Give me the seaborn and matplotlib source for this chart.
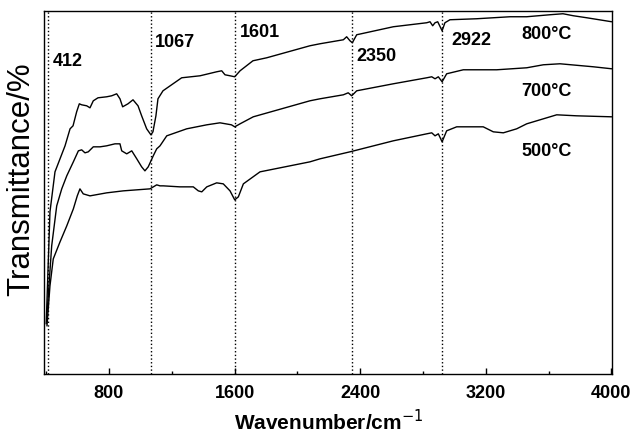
import numpy as np
import pandas as pd
import matplotlib.pyplot as plt
import seaborn as sns
from matplotlib.ticker import MultipleLocator

# FTIR spectra (transmittance in arbitrary units)
wn_800 = [400, 424, 456, 488, 520, 552, 571, 594, 611, 626, 658, 679, 700, 730, 785, 817,
          849, 870, 887, 921, 953, 985, 1008, 1040, 1067, 1080, 1099, 1112, 1144, 1208,
          1263, 1380, 1486, 1518, 1539, 1571, 1601, 1635, 1717, 1805, 2080, 2144, 2293,
          2314, 2335, 2350, 2378, 2611, 2824, 2845, 2862, 2877, 2894, 2922, 2940, 2972,
          3142, 3355, 3461, 3609, 3692, 3758, 3843, 4002]
tr_800 = [50, 162, 202, 215, 228, 245, 248, 262, 270, 269, 268, 266, 273, 276, 277, 278,
          280, 275, 267, 270, 274, 268, 258, 245, 239, 242, 258, 275, 283, 290,
          296, 298, 302, 303, 299, 298, 297, 303, 313, 316, 328, 330, 334,
          337, 333, 331, 339, 347, 351, 352, 348, 351, 352, 343, 351, 354,
          355, 357, 357, 359, 360, 358, 356, 352]

wn_700 = [403, 435, 467, 499, 531, 573, 605, 626, 647, 668, 700, 743, 785, 838, 870, 881,
          913, 945, 977, 1008, 1029, 1050, 1082, 1104, 1125, 1168, 1295, 1423, 1507, 1580,
          1601, 1635, 1719, 2080, 2144, 2293, 2324, 2346, 2378, 2611, 2824, 2856, 2877,
          2898, 2922, 2951, 3057, 3270, 3461, 3567, 3673, 3885, 4002]
tr_700 = [55, 128, 168, 185, 198, 212, 223, 224, 221, 222, 227, 227, 228, 230, 230, 223,
          220, 223, 215, 207, 203, 207, 218, 225, 228, 238, 245, 249, 251, 249,
          247, 250, 257, 273, 275, 279, 281, 278, 283, 290, 296, 297, 295,
          297, 292, 300, 304, 304, 306, 309, 310, 307, 305]

wn_500 = [405, 424, 445, 488, 531, 573, 598, 615, 636, 679, 785, 891, 1061, 1104, 1125,
          1146, 1252, 1337, 1369, 1391, 1423, 1486, 1528, 1571, 1601, 1624, 1656, 1762,
          2080, 2144, 2335, 2611, 2824, 2856, 2877, 2898, 2922, 2951, 3015, 3100, 3184,
          3248, 3312, 3397, 3461, 3652, 3779, 4002]
tr_500 = [48, 88, 115, 132, 148, 165, 178, 185, 180, 178, 181, 183, 185, 189, 188,
          188, 187, 187, 183, 182, 187, 191, 190, 183, 174, 177, 190, 202,
          212, 215, 222, 233, 240, 241, 238, 240, 232, 243, 247, 247, 247,
          242, 241, 245, 250, 259, 258, 257]

peaks = [412, 1067, 1601, 2350, 2922]
peak_labels = ["412", "1067", "1601", "2350", "2922"]
temps = ["800°C", "700°C", "500°C"]

sns.set_style("ticks")
plt.rcParams['font.family'] = ['Liberation Sans', 'DejaVu Sans']
plt.rcParams['text.color'] = 'black'
plt.rcParams['axes.labelcolor'] = 'black'
plt.rcParams['xtick.color'] = 'black'

fig = plt.figure(figsize=(6.33, 4.35), dpi=100)
ax = fig.add_axes([0.070, 0.138, 0.897, 0.835])

for wn, tr in [(wn_800, tr_800), (wn_700, tr_700), (wn_500, tr_500)]:
    sns.lineplot(x=wn, y=tr, ax=ax, color='black', linewidth=1.0, sort=False)

for p in peaks:
    ax.axvline(p, color='black', linestyle=':', linewidth=1.0)

# peak labels
label_pos = [(443, 313), (1093, 332), (1635, 342), (2378, 318), (2983, 334)]
for (lx, ly), t in zip(label_pos, peak_labels):
    ax.text(lx, ly, t, fontsize=13, fontweight='bold', va='center', ha='left')

temp_y = [340, 283, 223]
for ty, t in zip(temp_y, temps):
    ax.text(3428, ty, t, fontsize=13, fontweight='bold', va='center', ha='left')

ax.set_xlim(388, 4005)
ax.set_ylim(0, 363)
ax.set_xticks([800, 1600, 2400, 3200, 4000])
ax.xaxis.set_minor_locator(MultipleLocator(400))
ax.set_yticks([])
ax.set_xticklabels(["800", "1600", "2400", "3200", "4000"], fontweight='bold')
ax.tick_params(axis='x', which='major', direction='in', length=4, width=1,
               labelsize=13, pad=7)
ax.tick_params(axis='x', which='minor', direction='in', length=2.5, width=1)
for s in ax.spines.values():
    s.set_linewidth(1.0)
    s.set_color('black')

ax.set_xlabel("Wavenumber/cm$^{-1}$", fontsize=15, fontweight='bold', labelpad=5)
fig.text(21 / 633, 1 - 179 / 435, "Transmittance/%", fontsize=22.5,
         rotation=90, ha='center', va='center')

plt.savefig("out.png", dpi=100)
plt.close()
